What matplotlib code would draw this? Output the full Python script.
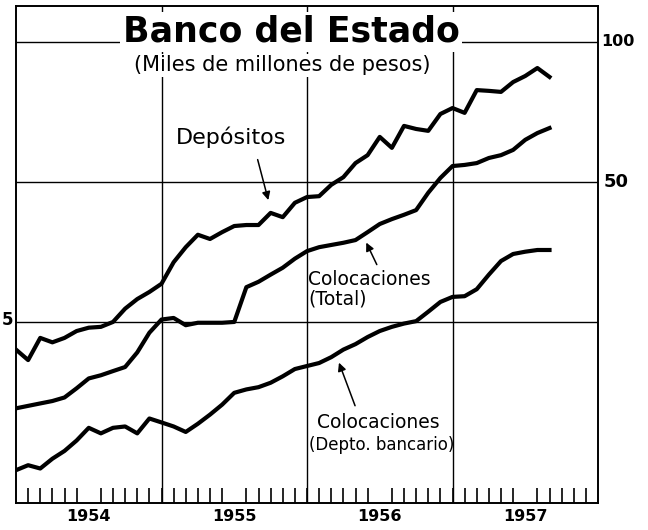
import numpy as np
import matplotlib
matplotlib.use("Agg")
import matplotlib.pyplot as plt
import matplotlib.transforms as mtransforms
from matplotlib.ticker import FixedLocator, NullFormatter

# month-end readings, Dec 1953 .. Aug 1957 (miles de millones de pesos)
depositos = [21.8, 20.7, 23.1, 22.6, 23.1, 23.9, 24.3, 24.4, 25.0, 26.7,
             28.0, 29.0, 30.2, 33.6, 36.2, 38.5, 37.7, 39.0, 40.2, 40.4,
             40.4, 42.9, 42.0, 45.1, 46.4, 46.6, 49.3, 51.2, 54.9, 57.1,
             62.5, 59.2, 66.0, 65.0, 64.4, 70.0, 72.1, 70.4, 78.8, 78.5,
             78.1, 82.0, 84.5, 87.9, 84.1]
coloc_total = [16.3, 16.5, 16.7, 16.9, 17.2, 18.0, 18.9, 19.2, 19.6, 20.0,
               21.5, 23.7, 25.3, 25.5, 24.6, 24.9, 24.9, 24.9, 25.0, 29.7,
               30.5, 31.6, 32.7, 34.2, 35.5, 36.2, 36.6, 37.0, 37.5, 39.0,
               40.6, 41.6, 42.5, 43.5, 47.4, 51.0, 54.1, 54.4, 54.9, 56.3,
               57.1, 58.6, 61.6, 63.7, 65.3]
coloc_banc = [12.0, 12.3, 12.1, 12.7, 13.2, 13.9, 14.8, 14.4, 14.8, 14.9,
              14.4, 15.5, 15.2, 14.9, 14.5, 15.1, 15.8, 16.6, 17.6, 17.9,
              18.1, 18.5, 19.1, 19.8, 20.1, 20.4, 21.0, 21.8, 22.4, 23.2,
              23.9, 24.4, 24.8, 25.1, 26.3, 27.6, 28.3, 28.4, 29.4, 31.6,
              33.8, 35.0, 35.4, 35.7, 35.7]
years = [1954, 1955, 1956, 1957]
right_labels = [100, 50]
grid_levels = [25, 50, 100]

t = 1954 + np.arange(len(depositos)) / 12.0

fig = plt.figure(figsize=(6.48, 5.30), dpi=100)
ax = fig.add_axes([16 / 648, 27 / 530, 582 / 648, 497 / 530])

ax.set_yscale("log")
ax.set_xlim(1954, 1958)
ax.set_ylim(10.2, 119.5)

for y in grid_levels:
    ax.axhline(y, color="black", lw=1.0, zorder=1)
for yr in years[1:]:
    ax.axvline(yr, color="black", lw=1.0, zorder=1)

lw = 3.0
ax.plot(t, depositos, color="black", lw=lw, zorder=3)
ax.plot(t, coloc_total, color="black", lw=lw, zorder=3)
ax.plot(t, coloc_banc, color="black", lw=lw, zorder=3)

for s in ax.spines.values():
    s.set_linewidth(1.4)

# ticks: months inside along the bottom, year names centred
ax.yaxis.set_major_locator(FixedLocator([]))
ax.yaxis.set_minor_locator(FixedLocator([]))
ax.yaxis.set_minor_formatter(NullFormatter())
ax.set_xticks([y + 0.5 for y in years])
ax.set_xticklabels([str(y) for y in years], fontsize=11.5, fontweight="bold")
ax.tick_params(axis="x", which="major", length=0, pad=4)
ax.xaxis.set_minor_locator(FixedLocator(1954 + np.arange(1, 48) / 12.0))
ax.tick_params(axis="x", which="minor", direction="in", length=11, width=1.2)

# right hand scale labels
trans = mtransforms.blended_transform_factory(ax.transAxes, ax.transData)
ax.text(1.006, right_labels[0], "100", transform=trans, ha="left", va="center",
        fontsize=11.5, fontweight="bold")
ax.text(1.01, right_labels[1], "50", transform=trans, ha="left", va="center",
        fontsize=13, fontweight="bold")
fig.text(2 / 648, 1 - 320 / 530, "5", ha="left", va="center",
         fontsize=12, fontweight="bold")

# title over the 100 line
ax.text(0.4725, 100, "Banco del Estado", transform=trans, ha="center",
        va="baseline", fontsize=25, fontweight="bold", zorder=4,
        bbox=dict(facecolor="white", edgecolor="none", pad=2))
ax.text(0.457, 89.2, "(Miles de millones de pesos)", transform=trans,
        ha="center", va="center", fontsize=15, zorder=4,
        bbox=dict(facecolor="white", edgecolor="none", pad=1))

arrow = dict(arrowstyle="-|>", color="black", lw=1.1, mutation_scale=12)

ax.text(1955.48, 62.5, "Depósitos", ha="center", va="center", fontsize=16)
ax.annotate("", xy=(1955.739, 45.1), xytext=(1955.656, 56.6), arrowprops=arrow)

ax.text(1956.007, 32.3, "Colocaciones\n(Total)", ha="left", va="top",
        fontsize=13.5, linespacing=1.05)
ax.annotate("", xy=(1956.399, 37.5), xytext=(1956.488, 32.8), arrowprops=arrow)

ax.text(1956.488, 15.9, "Colocaciones", ha="center", va="top", fontsize=13.5)
ax.text(1956.51, 14.2, "(Depto. bancario)", ha="center", va="top", fontsize=12)
ax.annotate("", xy=(1956.213, 20.7), xytext=(1956.337, 16.3), arrowprops=arrow)

fig.savefig("out.png", dpi=100, facecolor="white")
